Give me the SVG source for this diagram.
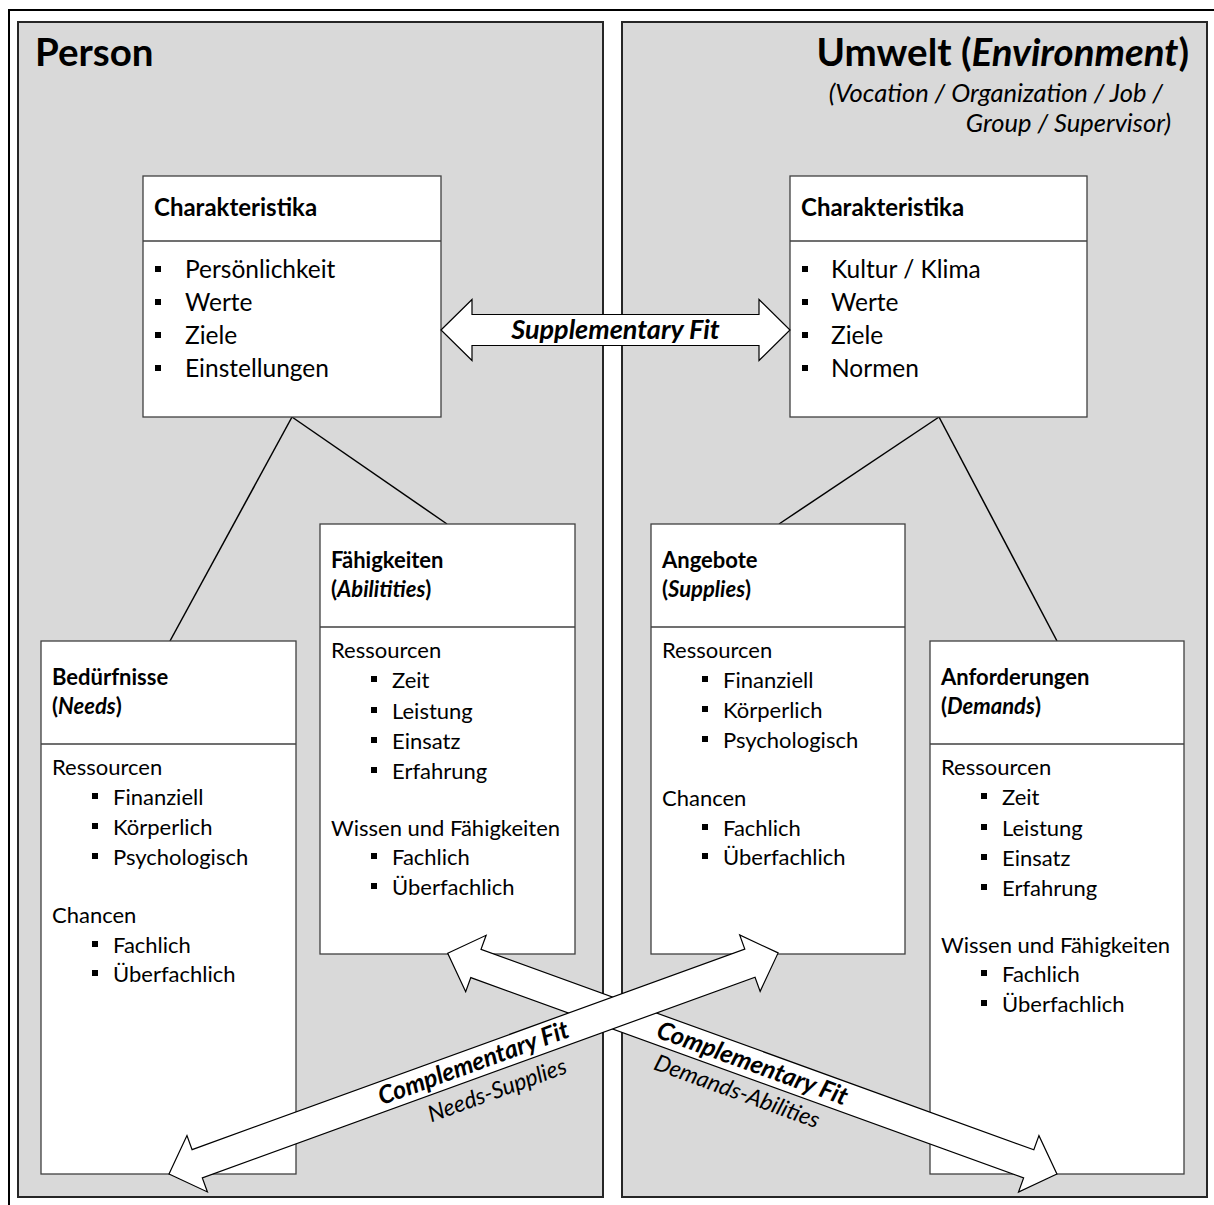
<svg xmlns="http://www.w3.org/2000/svg" xmlns:xlink="http://www.w3.org/1999/xlink" width="1214" height="1205" viewBox="0 0 1214 1205">
  <style>
    .panel { fill: #d9d9d9; stroke: #262626; stroke-width: 2; }
    .box { fill: #ffffff; stroke: #404040; stroke-width: 1.3; }
    .div { stroke: #404040; stroke-width: 1.3; }
    .link { stroke: #000000; stroke-width: 1.5; fill: none; }
    .arrow { fill: #ffffff; stroke: #000000; stroke-width: 1.2; stroke-linejoin: miter; }
    text { font-family: Lato, "Liberation Sans", sans-serif; fill: #000000; }
    .hd { font-size: 38.5px; font-weight: bold; }
    .sub { font-size: 25.5px; font-style: italic; }
    .ct { font-size: 24px; font-weight: bold; }
    .ti { font-size: 22px; font-weight: bold; }
    .it { font-size: 24.5px; }
    .tx { font-size: 22px; }
    .sup { font-size: 27px; font-weight: bold; font-style: italic; }
    .fit { font-size: 25px; font-weight: bold; font-style: italic; }
    .kind { font-size: 23px; font-style: italic; }
  </style>
  <defs>
    <rect id="blt" width="6" height="6" fill="#000000"/>
    <!-- double-headed block arrow along +x, length 349 -->
    <polygon id="supArrow" points="0,0 31,-30.5 31,-15.5 318,-15.5 318,-30.5 349,0 318,30.5 318,15.5 31,15.5 31,30.5"/>
    <!-- double-headed block arrow along +x, length 648 -->
    <polygon id="compArrow" points="0,0 30,-30 30,-15 618,-15 618,-30 648,0 618,30 618,15 30,15 30,30"/>
  </defs>

  <!-- outer frame -->
  <rect x="9" y="10" width="1220" height="1220" fill="#ffffff" stroke="#000000" stroke-width="2"/>

  <!-- side panels -->
  <g id="panel-person">
    <rect class="panel" x="18" y="22" width="585" height="1175"/>
    <text class="hd" x="35" y="66">Person</text>
  </g>
  <g id="panel-umwelt">
    <rect class="panel" x="622" y="22" width="585" height="1175"/>
    <text class="hd" x="1189" y="66" text-anchor="end">Umwelt (<tspan font-style="italic">Environment</tspan>)</text>
    <text class="sub" x="1163" y="102" text-anchor="end">(Vocation / Organization / Job /</text>
    <text class="sub" x="1171" y="132" text-anchor="end">Group / Supervisor)</text>
  </g>

  <!-- connectors -->
  <g id="connectors">
    <line class="link" x1="292" y1="417" x2="170" y2="641"/>
    <line class="link" x1="292" y1="417" x2="447" y2="524"/>
    <line class="link" x1="939" y1="417" x2="779" y2="524"/>
    <line class="link" x1="939" y1="417" x2="1057" y2="641"/>
  </g>

  <!-- person characteristics -->
  <g id="char-person">
    <rect class="box" x="143" y="176" width="298" height="241"/>
    <line class="div" x1="143" y1="241" x2="441" y2="241"/>
    <text class="ct" x="154" y="216">Charakteristika</text>
    <use xlink:href="#blt" x="155" y="266"/><text class="it" x="185" y="278">Persönlichkeit</text>
    <use xlink:href="#blt" x="155" y="299"/><text class="it" x="185" y="311">Werte</text>
    <use xlink:href="#blt" x="155" y="332"/><text class="it" x="185" y="344">Ziele</text>
    <use xlink:href="#blt" x="155" y="365"/><text class="it" x="185" y="377">Einstellungen</text>
  </g>

  <!-- environment characteristics -->
  <g id="char-umwelt">
    <rect class="box" x="790" y="176" width="297" height="241"/>
    <line class="div" x1="790" y1="241" x2="1087" y2="241"/>
    <text class="ct" x="801" y="216">Charakteristika</text>
    <use xlink:href="#blt" x="802" y="266"/><text class="it" x="831" y="278">Kultur / Klima</text>
    <use xlink:href="#blt" x="802" y="299"/><text class="it" x="831" y="311">Werte</text>
    <use xlink:href="#blt" x="802" y="332"/><text class="it" x="831" y="344">Ziele</text>
    <use xlink:href="#blt" x="802" y="365"/><text class="it" x="831" y="377">Normen</text>
  </g>

  <!-- needs -->
  <g id="needs">
    <rect class="box" x="41" y="641" width="255" height="533"/>
    <line class="div" x1="41" y1="744" x2="296" y2="744"/>
    <text class="ti" x="52" y="685">Bedürfnisse</text>
    <text class="ti" x="52" y="714">(<tspan font-style="italic">Needs</tspan>)</text>
    <text class="tx" x="52" y="775">Ressourcen</text>
    <use xlink:href="#blt" x="92" y="793"/><text class="tx" x="113" y="805">Finanziell</text>
    <use xlink:href="#blt" x="92" y="823"/><text class="tx" x="113" y="835">Körperlich</text>
    <use xlink:href="#blt" x="92" y="853"/><text class="tx" x="113" y="865">Psychologisch</text>
    <text class="tx" x="52" y="923">Chancen</text>
    <use xlink:href="#blt" x="92" y="941"/><text class="tx" x="113" y="953">Fachlich</text>
    <use xlink:href="#blt" x="92" y="970"/><text class="tx" x="113" y="982">Überfachlich</text>
  </g>

  <!-- abilities -->
  <g id="abilities">
    <rect class="box" x="320" y="524" width="255" height="430"/>
    <line class="div" x1="320" y1="627" x2="575" y2="627"/>
    <text class="ti" x="331" y="568">Fähigkeiten</text>
    <text class="ti" x="331" y="597">(<tspan font-style="italic">Abilitities</tspan>)</text>
    <text class="tx" x="331" y="658">Ressourcen</text>
    <use xlink:href="#blt" x="371" y="676"/><text class="tx" x="392" y="688">Zeit</text>
    <use xlink:href="#blt" x="371" y="707"/><text class="tx" x="392" y="719">Leistung</text>
    <use xlink:href="#blt" x="371" y="737"/><text class="tx" x="392" y="749">Einsatz</text>
    <use xlink:href="#blt" x="371" y="767"/><text class="tx" x="392" y="779">Erfahrung</text>
    <text class="tx" x="331" y="836">Wissen und Fähigkeiten</text>
    <use xlink:href="#blt" x="371" y="853"/><text class="tx" x="392" y="865">Fachlich</text>
    <use xlink:href="#blt" x="371" y="883"/><text class="tx" x="392" y="895">Überfachlich</text>
  </g>

  <!-- supplies -->
  <g id="supplies">
    <rect class="box" x="651" y="524" width="254" height="430"/>
    <line class="div" x1="651" y1="627" x2="905" y2="627"/>
    <text class="ti" x="662" y="568">Angebote</text>
    <text class="ti" x="662" y="597">(<tspan font-style="italic">Supplies</tspan>)</text>
    <text class="tx" x="662" y="658">Ressourcen</text>
    <use xlink:href="#blt" x="702" y="676"/><text class="tx" x="723" y="688">Finanziell</text>
    <use xlink:href="#blt" x="702" y="706"/><text class="tx" x="723" y="718">Körperlich</text>
    <use xlink:href="#blt" x="702" y="736"/><text class="tx" x="723" y="748">Psychologisch</text>
    <text class="tx" x="662" y="806">Chancen</text>
    <use xlink:href="#blt" x="702" y="824"/><text class="tx" x="723" y="836">Fachlich</text>
    <use xlink:href="#blt" x="702" y="853"/><text class="tx" x="723" y="865">Überfachlich</text>
  </g>

  <!-- demands -->
  <g id="demands">
    <rect class="box" x="930" y="641" width="254" height="533"/>
    <line class="div" x1="930" y1="744" x2="1184" y2="744"/>
    <text class="ti" x="941" y="685">Anforderungen</text>
    <text class="ti" x="941" y="714">(<tspan font-style="italic">Demands</tspan>)</text>
    <text class="tx" x="941" y="775">Ressourcen</text>
    <use xlink:href="#blt" x="981" y="793"/><text class="tx" x="1002" y="805">Zeit</text>
    <use xlink:href="#blt" x="981" y="824"/><text class="tx" x="1002" y="836">Leistung</text>
    <use xlink:href="#blt" x="981" y="854"/><text class="tx" x="1002" y="866">Einsatz</text>
    <use xlink:href="#blt" x="981" y="884"/><text class="tx" x="1002" y="896">Erfahrung</text>
    <text class="tx" x="941" y="953">Wissen und Fähigkeiten</text>
    <use xlink:href="#blt" x="981" y="970"/><text class="tx" x="1002" y="982">Fachlich</text>
    <use xlink:href="#blt" x="981" y="1000"/><text class="tx" x="1002" y="1012">Überfachlich</text>
  </g>

  <!-- fit arrows -->
  <g id="fit-arrows">
    <g id="supplementary-fit" transform="translate(441,330)">
      <use xlink:href="#supArrow" class="arrow"/>
      <text class="sup" x="174.5" y="9" text-anchor="middle">Supplementary Fit</text>
    </g>
    <g id="demands-abilities-fit" transform="translate(447.7,953.3) rotate(19.92)">
      <use xlink:href="#compArrow" class="arrow"/>
      <text class="fit" x="324" y="8" text-anchor="middle">Complementary Fit</text>
      <text class="kind" x="319" y="39" text-anchor="middle">Demands-Abilities</text>
    </g>
    <g id="needs-supplies-fit" transform="translate(169,1174) rotate(-19.95)">
      <use xlink:href="#compArrow" class="arrow"/>
      <text class="fit" x="324" y="8" text-anchor="middle">Complementary Fit</text>
      <text class="kind" x="337" y="41" text-anchor="middle">Needs-Supplies</text>
    </g>
  </g>
</svg>
